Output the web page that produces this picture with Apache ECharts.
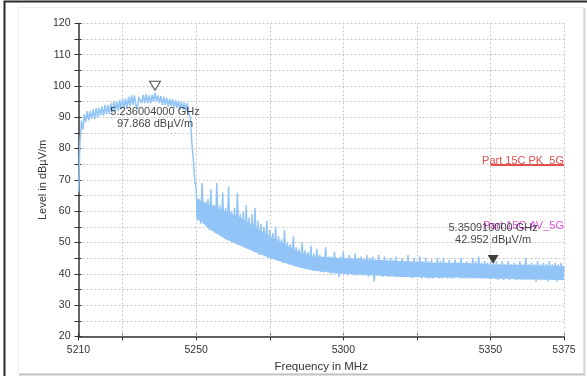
<!DOCTYPE html>
<html><head><meta charset="utf-8">
<script src="https://cdn.jsdelivr.net/npm/echarts@6/dist/echarts.min.js"></script>
<style>html,body{margin:0;padding:0;background:#fff}#c{width:587px;height:376px}</style>
</head><body><div id="c"></div><script>
// Uniform sweep grid of the analyser trace
const sweepStart = 5210, sweepStep = 0.5;
// Trace levels (dBµV/m), one per 0.5 MHz
const levels = [
66,82,89,86,91,88.5,92,89,92,89.5,92.5,89.5,93,90,93,90.5,93.5,90.5,94,91,
94,91,94.5,91.5,95,92,95,92,95.5,92.5,96,93,96,93,96.5,93.5,97,94,97,94,
92.5,96.5,97,94.5,97.2,94.5,97.5,94.5,97,94.5,97.2,95,97.9,95,97,94.5,96.8,94,96.5,94,
96.2,93.5,96,93.5,95.8,93,95.5,93,95.2,92.5,95,92.5,94.8,92,94.5,91,90,82,77,70,
67,57,64,56,69,56,63,55,64,54,67,54,62,53,69,53,62,52,66,52,
61,51,68,51,60,50,61,50,66,50,59,49,60,49,62,48,58,48,59,47,
61,47,57,46,56,46,55,46,57,45.5,54,45,53,45,55,44.5,52,44,51,43.5,
54,43.5,50,43,49.5,43,52,42.5,48.5,42.5,48,42,50,42,47.5,41.5,47,41.5,49,41,
46.5,41,48,41,46,40.5,45.5,40.5,48.5,40.5,45.5,40,45.5,40,47,40,45,39,45.5,40,
47,40,45,39.5,46,40,45,39.5,46.5,39.5,45,40,45.5,39.5,44.5,39.5,46,39,45,39.5,
45.5,37.5,44.5,39.5,46,39.5,44.5,39,45.5,39.5,44.5,39,45,39.5,44.5,39,45.5,39,44,39,
45,39,44,39,46,39,44,38.5,45,39,44,39,45.5,38.5,44,39,45,38.5,44,38.5,
44.5,38.5,43.5,39,45,38.5,44,38.5,45,39,43.5,38.5,44.5,38.5,43.5,38.5,44.5,39,43.5,38.5,
45,38.5,43.5,38.5,44,38.5,43.5,38.5,45,38.5,44,38.5,45.5,38.5,43.5,38.5,44,38.5,43.5,38.5,
44,38.5,43,38.5,44,38,43,38.5,44,38,43,38.5,44,38,43,38.5,43.5,38,43,38,
44,38,43,38,45,38,43,38,43.5,38,43,37.5,44,38,43,38,43.5,38,43,37.5,
44,38,43,38,43.5,37.5,43,38,43.5,38,42
];
// Dense bulk of the noise floor (lower / upper edge of the solid band)
const bandFreqs = [5250,5255,5260,5265,5270,5275,5280,5285,5290,5300,5310,5320,5330,5340,5350,5360,5375];
const bandLow   = [58,54,51,49,47,45,43.5,42,41,40,39.5,39,38.8,38.8,38.5,38.3,38];
const bandHigh  = [64,62,60,58,55,52,49.5,47,45.5,45,44.5,44,43.5,43.5,43,42.8,42.5];
// Axes
const xMin = 5210, xMax = 5375;
const xTickValues = [5210,5225,5250,5275,5300,5325,5350,5375];
const xLabelValues = [5210,5250,5300,5350,5375];
const yMin = 20, yMax = 120, yStep = 10;
// Markers
const markerFreqs = [5236.004, 5350.91];
const markerLevels = [97.868, 42.952];
// Limit lines
const limitNames = ['Part 15C PK_5G', 'Part 15C AV_5G'];
const limitLevels = [74.7, 54];
const limitRange = [5350, 5375];

const FONT = 'Liberation Sans, Arial, sans-serif';
const TRACE = '#92c4f7';
const traceData = levels.map((v, i) => [sweepStart + i * sweepStep, v]);
const gridDash = {color: '#c6c6c6', type: [2, 2], width: 1};
const plain = v => String(v);

const chart = echarts.init(document.getElementById('c'), null, {renderer: 'canvas'});
chart.setOption({
  animation: false,
  textStyle: {fontFamily: FONT},
  grid: {left: 78.5, right: 23, top: 23.4, bottom: 39.6, containLabel: false, outerBoundsMode: 'none'},
  xAxis: [{
    type: 'value', min: xMin, max: xMax, position: 'bottom',
    axisLine: {show: true, lineStyle: {color: '#333', width: 1.5}},
    axisTick: {show: true, length: 4, customValues: xTickValues, lineStyle: {color: '#333'}},
    axisLabel: {customValues: xLabelValues, formatter: plain, fontSize: 10.5, color: '#333', margin: 8, fontFamily: FONT},
    splitLine: {show: false},
    name: 'Frequency in MHz', nameLocation: 'middle', nameGap: 24, nameMoveOverlap: false,
    nameTextStyle: {fontSize: 11.5, color: '#333', fontFamily: FONT}
  }, {
    type: 'value', min: xMin, max: xMax, position: 'bottom',
    axisLine: {show: false},
    axisTick: {show: true, inside: true, length: 3, customValues: xTickValues, lineStyle: {color: '#333'}},
    axisLabel: {show: false}, splitLine: {show: false}
  }],
  yAxis: [{
    type: 'value', min: yMin, max: yMax, interval: yStep, position: 'left',
    axisLine: {show: true, lineStyle: {color: '#333', width: 1.5}},
    axisTick: {show: true, length: 4, lineStyle: {color: '#333'}},
    minorTick: {show: true, splitNumber: 2, length: 4, lineStyle: {color: '#333'}},
    axisLabel: {fontSize: 10.5, formatter: plain, color: '#333', margin: 8, fontFamily: FONT},
    splitLine: {show: true, lineStyle: gridDash},
    minorSplitLine: {show: true, lineStyle: gridDash},
    name: 'Level in dBµV/m', nameLocation: 'middle', nameGap: 30, nameMoveOverlap: false,
    nameTextStyle: {fontSize: 11, color: '#333', fontFamily: FONT}
  }, {
    type: 'value', min: yMin, max: yMax, interval: yStep, position: 'left',
    axisLine: {show: false},
    axisTick: {show: true, inside: true, length: 3, lineStyle: {color: '#333'}},
    minorTick: {show: true, splitNumber: 2, length: 3, lineStyle: {color: '#333'}},
    axisLabel: {show: false}, splitLine: {show: false}
  }],
  graphic: [
    {type: 'rect', z: -10, silent: true, shape: {x: 4.5, y: 1.5, width: 700, height: 500}, style: {fill: 'none', stroke: '#2a2a2a', lineWidth: 2}},
    {type: 'rect', z: -10, silent: true, shape: {x: 18.5, y: 7.5, width: 565, height: 366}, style: {fill: 'none', stroke: '#efefef', lineWidth: 1}},
    {type: 'line', z: -10, silent: true, shape: {x1: 19, y1: 374.5, x2: 585, y2: 374.5}, style: {stroke: '#c4c4c4', lineWidth: 2}},
    {type: 'line', z: -10, silent: true, shape: {x1: 584.5, y1: 8, x2: 584.5, y2: 375}, style: {stroke: '#d6d6d6', lineWidth: 2}}
  ],
  series: [{
    type: 'custom', z: 1, silent: true, clip: true,
    data: [[bandFreqs[0], bandLow[0]]],
    encode: {x: 0, y: 1},
    renderItem: (params, api) => {
      if (params.dataIndex !== 0) return null;
      const top = bandFreqs.map((f, i) => api.coord([f, bandHigh[i]]));
      const bottom = bandFreqs.map((f, i) => api.coord([f, bandLow[i]])).reverse();
      return {type: 'polygon', shape: {points: top.concat(bottom)}, style: {fill: TRACE}};
    }
  }, {
    type: 'line', xAxisIndex: 0, yAxisIndex: 0,
    data: traceData, showSymbol: false, symbol: 'none', sampling: null,
    lineStyle: {color: TRACE, width: 1.5}, z: 2,
    markLine: {
      silent: true, symbol: 'none', label: {show: false},
      lineStyle: gridDash, z: 1,
      data: xTickValues.slice(1).map(v => ({xAxis: v}))
    }
  }, {
    type: 'line', data: [], z: 3,
    markLine: {
      silent: true, symbol: 'none',
      data: limitNames.map((n, i) => [{
        name: n, coord: [limitRange[0], limitLevels[i]],
        lineStyle: i === 0 ? {color: '#e2504c', width: 2, type: 'solid'} : {color: 'rgba(0,0,0,0)', width: 0},
        label: {show: true, position: 'insideEndTop', distance: [0, -1], formatter: n,
          fontSize: 11, fontFamily: FONT, color: i === 0 ? '#e2504c' : '#e055e0'}
      }, {coord: [limitRange[1], limitLevels[i]]}])
    }
  }, {
    type: 'scatter', z: 5,
    data: markerFreqs.map((f, i) => ({
      value: [f, markerLevels[i]],
      symbol: 'path://M0,0L10,0L5,9Z',
      symbolSize: [11, 9],
      symbolOffset: i === 0 ? [0, -7] : [0, -5],
      itemStyle: i === 0 ? {color: '#fff', borderColor: '#222', borderWidth: 1} : {color: '#111'},
      label: {
        show: true, position: 'inside', offset: i === 0 ? [0, 32.5] : [0, -26],
        formatter: () => (f / 1000).toFixed(9) + ' GHz\n' + markerLevels[i].toFixed(3) + ' dBµV/m',
        fontSize: 11, lineHeight: 12, color: '#111', fontFamily: FONT, align: 'center'
      }
    }))
  }]
});
</script></body></html>
